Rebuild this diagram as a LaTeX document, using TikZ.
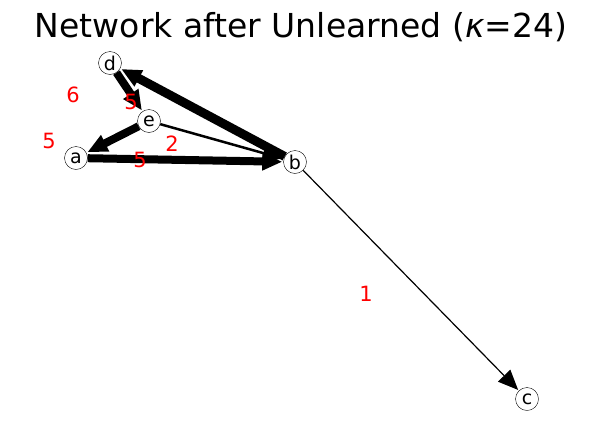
\documentclass[tikz,border=0pt]{standalone}
\usepackage{fontspec}
\setmainfont{DejaVu Sans}
\usetikzlibrary{arrows.meta}
\tikzset{
    vertex/.style = {draw, circle, minimum size=23pt, inner sep=0pt, font=\fontsize{19}{19}\selectfont},
    Edge/.style = {-{Triangle[length=20pt, width=17pt]}, line width=#1, shorten >= 1pt},
    Edge/.default = {1.2pt},
    weight/.style = {text=red, font=\fontsize{21}{21}\selectfont}
}

\begin{document}
\begin{tikzpicture}[x=1pt, y=-1pt]
    \useasboundingbox (0,0) rectangle (602,426);
    \node [font=\fontsize{33}{33}\selectfont] (title) at (301,27) {Network after Unlearned (\textit{κ}=24)};
    \node [vertex] (d) at (110,63) {d};
    \node [vertex] (e) at (149,121) {e};
    \node [vertex] (a) at (76,158) {a};
    \node [vertex] (b) at (295,162) {b};
    \node [vertex] (c) at (527,399) {c};
    \draw [Edge=9pt] (b) to (d);
    \draw [Edge=8pt] (d) to (e);
    \draw [Edge=8pt] (e) to (a);
    \draw [Edge=8pt] (a) to (b);
    \draw [Edge=2.5pt] (e) to (b);
    \draw [Edge] (b) to (c);
    \node [weight] (wd) at (73,95) {6};
    \node [weight] (wde) at (131,102) {5};
    \node [weight] (wa) at (49,141) {5};
    \node [weight] (wab) at (140,160) {5};
    \node [weight] (we) at (172,144) {2};
    \node [weight] (wc) at (366,294) {1};
\end{tikzpicture}
\end{document}
